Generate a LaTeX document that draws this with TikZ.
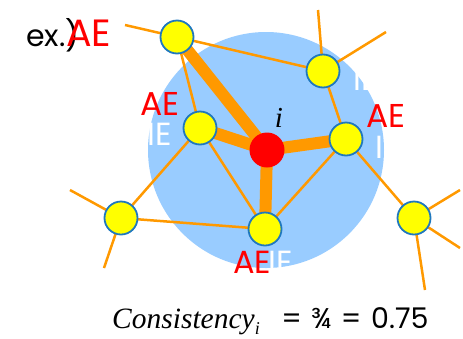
\documentclass[tikz,border=0pt]{standalone}
\usepackage{fontspec}
\newfontfamily\gothic{Poppins}
\newfontfamily\tnr{Liberation Serif}
\pgfdeclarelayer{bg}
\pgfdeclarelayer{edges}
\pgfsetlayers{bg,edges,main}
\definecolor{sky}{RGB}{153,204,255}
\definecolor{edgeor}{RGB}{255,153,0}
\definecolor{ring}{RGB}{31,120,190}
\definecolor{ired}{RGB}{255,0,0}
\definecolor{ylw}{RGB}{255,255,0}
\begin{document}
\begin{tikzpicture}[x=1pt,y=-1pt,
  peer/.style={circle,fill=ylw,draw=ring,line width=1.8pt,minimum size=33pt,inner sep=0pt},
  me/.style={circle,fill=ired,minimum size=35pt,inner sep=0pt},
  weak/.style={draw=edgeor,line width=2.5pt},
  strong/.style={draw=edgeor,line width=12pt},
  ae/.style={text=ired,inner sep=0pt,anchor=base west},
  ie/.style={text=white,inner sep=0pt,anchor=base west,font=\gothic\fontsize{32pt}{34pt}\selectfont},
  ]
\useasboundingbox (0,0) rectangle (463,338);
\begin{pgfonlayer}{bg}
  \fill[sky] (266,150) circle (118);
\end{pgfonlayer}
% nodes
\node[me] (c) at (267,150) {};
\node[peer] (a) at (177,37) {};
\node[peer] (b) at (200,128) {};
\node[peer] (cc) at (323,71) {};
\node[peer] (d) at (346,139) {};
\node[peer] (e) at (265,229) {};
\node[peer] (f) at (121,218) {};
\node[peer] (g) at (414,218) {};
\coordinate (fa) at (125,25);
\coordinate (fc1) at (318,10);
\coordinate (fc2) at (386,32);
\coordinate (ff1) at (70,190);
\coordinate (ff2) at (104,268);
\coordinate (fg1) at (460,190);
\coordinate (fg2) at (460,248);
\coordinate (fg3) at (425,290);
\begin{pgfonlayer}{edges}
  \draw[weak] (a.center) -- (fa);
  \draw[weak] (a.center) -- (cc.center);
  \draw[weak] (a.center) -- (b.center);
  \draw[weak] (cc.center) -- (fc1);
  \draw[weak] (cc.center) -- (fc2);
  \draw[weak] (cc.center) -- (d.center);
  \draw[weak] (b.center) -- (f.center);
  \draw[weak] (b.center) -- (e.center);
  \draw[weak] (f.center) -- (e.center);
  \draw[weak] (f.center) -- (ff1);
  \draw[weak] (f.center) -- (ff2);
  \draw[weak] (d.center) -- (e.center);
  \draw[weak] (d.center) -- (g.center);
  \draw[weak] (g.center) -- (fg1);
  \draw[weak] (g.center) -- (fg2);
  \draw[weak] (g.center) -- (fg3);
  \draw[strong] (c.center) -- (a.center);
  \draw[strong] (c.center) -- (b.center);
  \draw[strong] (c.center) -- (d.center);
  \draw[strong] (c.center) -- (e.center);
\end{pgfonlayer}
% labels
\node[inner sep=0pt,anchor=base,font=\tnr\itshape\fontsize{29pt}{32pt}\selectfont] (ilab) at (279,127) {i};
\node[inner sep=0pt,anchor=base west,font=\gothic\fontsize{30pt}{34pt}\selectfont] (ex) at (26,46) {ex.)};
\node[ae,font=\gothic\fontsize{38pt}{40pt}\selectfont] (ae1) at (66,46) {AE};
\node[ie] (ie2) at (147,145) {IE};
\node[ae,font=\gothic\fontsize{33pt}{36pt}\selectfont] (ae2) at (140,115) {AE};
\node[ie] (ie3) at (353,90) {IE};
\node[ae,font=\gothic\fontsize{33pt}{36pt}\selectfont] (ae3) at (366,127) {AE};
\node[ie] (ie4) at (375,158) {IE};
\node[ae,font=\gothic\fontsize{32pt}{34pt}\selectfont] (ae4) at (233,273) {AE};
\node[ie] (ie5) at (268,273) {IE};
\node[inner sep=0pt,anchor=base west] (form) at (112,328)
  {{\tnr\itshape\fontsize{29.5pt}{32pt}\selectfont Consistency\raisebox{-6pt}{\fontsize{18pt}{18pt}\selectfont i}}};
\node[inner sep=0pt,anchor=base west,font=\gothic\fontsize{28.5pt}{30pt}\selectfont] (val) at (277,328)
  {\makebox[29pt]{=}\makebox[30pt]{¾}\makebox[30pt]{=}\hspace{5pt}0.75};
\end{tikzpicture}
\end{document}
